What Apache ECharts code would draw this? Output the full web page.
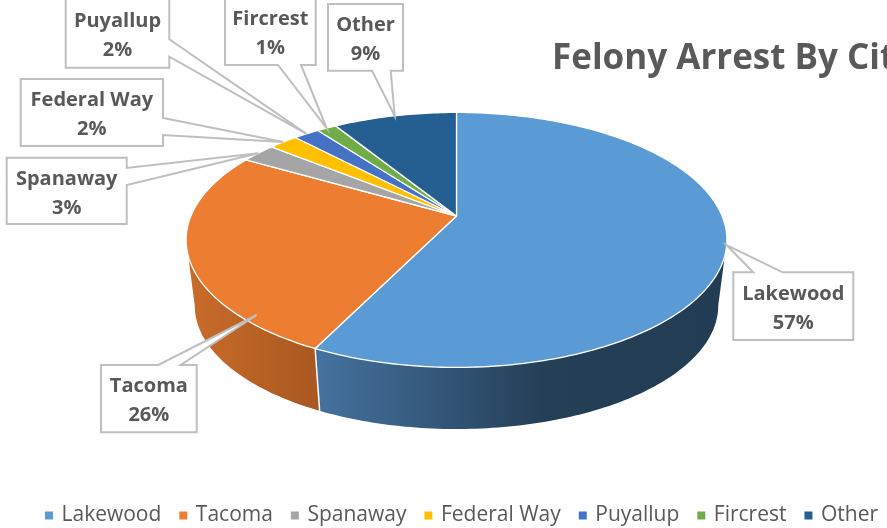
<!DOCTYPE html>
<html><head><meta charset="utf-8">
<style>html,body{margin:0;padding:0;background:#fff;overflow:hidden}#c{width:887px;height:528px}</style>
<script src="https://cdn.jsdelivr.net/npm/echarts@6/dist/echarts.min.js"></script>
</head><body><div id="c"></div>
<script>
const categories = ['Lakewood','Tacoma','Spanaway','Federal Way','Puyallup','Fircrest','Other'];
const shares = [57.3,26.0,2.5,2.1,1.85,1.4,8.85];
const percentLabels = ['57%','26%','3%','2%','2%','1%','9%'];
const colors = ['#5b9bd5','#ed7d31','#a5a5a5','#ffc000','#4472c4','#70ad47','#255e91'];

// view geometry of the perspective disc
const VIEW = {x0:456.5,y0:216,ax:265.6,ay:123,k:0.1875,bottomScale:0.968,bottomDy:66.5};
const VIS = [100.8,259.2];
const WALL = {
  0:{x1:316,x2:727,stops:[[0,'#45729f'],[0.55,'#253f57'],[1,'#223c53']]},
  1:{x1:187,x2:318,stops:[[0,'#c96c2b'],[1,'#a95820']]}
};
// callouts: box [x0,y0,x1,y1], root side and two root offsets along it, optional fixed tip
const CALLOUT = [
 {box:[733.3,272.3,853.3,340],side:'top',roots:[753.3,782.7]},
 {box:[101,365,196.7,432.3],side:'top',roots:[158.3,180.7],tip:[256.7,315]},
 {box:[6.7,157.7,126.7,224],side:'right',roots:[168,185]},
 {box:[20.7,79,163,146],side:'right',roots:[118,135]},
 {box:[65.7,-1,169.3,67.7],side:'right',roots:[39.3,56.7]},
 {box:[225,-3,315.7,65],side:'bottom',roots:[278,301]},
 {box:[328,4,403,70.7],side:'bottom',roots:[372,390.7]}
];
const TEXT = '#595959', FONT = '"Open Sans", sans-serif';

const total = shares.reduce((a,b)=>a+b,0);
const edges = [0];
shares.forEach(v=>edges.push(edges[edges.length-1]+v/total*360));

function proj(deg,r,bottom){
  const t=deg*Math.PI/180, x=r*Math.sin(t), y=-r*Math.cos(t), w=1-VIEW.k*y;
  const s=bottom?VIEW.bottomScale:1, dy=bottom?VIEW.bottomDy:0;
  return [VIEW.x0+s*VIEW.ax*x/w, VIEW.y0+dy+s*VIEW.ay*y/w];
}
function arc(a,b,bottom){
  const p=[],n=Math.max(2,Math.ceil(Math.abs(b-a)));
  for(let i=0;i<=n;i++)p.push(proj(a+(b-a)*i/n,1,bottom));
  return p;
}
function render(i){
  const a=edges[i],b=edges[i+1],mid=(a+b)/2,kids=[];
  const va=Math.max(a,VIS[0]),vb=Math.min(b,VIS[1]);
  if(vb>va){
    const w=WALL[i];
    kids.push({type:'polygon',z2:1,shape:{points:arc(va,vb,false).concat(arc(vb,va,true))},
      style:{fill:new echarts.graphic.LinearGradient(w.x1,0,w.x2,0,w.stops.map(s=>({offset:s[0],color:s[1]})),true),stroke:null}});
    if(b<VIS[1]) kids.push({type:'line',z2:2,shape:{x1:proj(b,1)[0],y1:proj(b,1)[1],x2:proj(b,1,true)[0],y2:proj(b,1,true)[1]},style:{stroke:'#fff',lineWidth:1.5}});
  }
  kids.push({type:'polygon',z2:3,shape:{points:[proj(0,0)].concat(arc(a,b,false))},
    style:{fill:colors[i],stroke:'#fff',lineWidth:1.3,lineJoin:'round'}});
  const c=CALLOUT[i],[x0,y0,x1,y1]=c.box,tip=c.tip||proj(mid,1);
  let pts;
  if(c.side==='top')pts=[[x0,y0],[c.roots[0],y0],tip,[c.roots[1],y0],[x1,y0],[x1,y1],[x0,y1]];
  if(c.side==='right')pts=[[x0,y0],[x1,y0],[x1,c.roots[0]],tip,[x1,c.roots[1]],[x1,y1],[x0,y1]];
  if(c.side==='bottom')pts=[[x0,y0],[x1,y0],[x1,y1],[c.roots[1],y1],tip,[c.roots[0],y1],[x0,y1]];
  kids.push({type:'polygon',z2:5,shape:{points:pts},style:{fill:'#fff',stroke:'#bfbfbf',lineWidth:2,lineJoin:'miter'}});
  const cx=(x0+x1)/2,cy=(y0+y1)/2;
  kids.push({type:'text',z2:6,style:{text:categories[i],x:cx,y:cy-12,align:'center',verticalAlign:'middle',font:'bold 20px '+FONT,fill:TEXT}});
  kids.push({type:'text',z2:6,style:{text:percentLabels[i],x:cx,y:cy+17,align:'center',verticalAlign:'middle',font:'bold 20px '+FONT,fill:TEXT}});
  return {type:'group',children:kids};
}
const chart=echarts.init(document.getElementById('c'),null,{renderer:'canvas'});
chart.setOption({
  animation:false,
  backgroundColor:'#fff',
  title:{text:'Felony Arrest By City',left:547,top:37,textStyle:{fontFamily:FONT,fontWeight:'bold',fontSize:35,color:TEXT}},
  legend:{data:categories,left:40,top:500,width:1000,icon:'rect',itemWidth:8,itemHeight:8,itemGap:18,
    textStyle:{fontFamily:FONT,fontSize:21,color:TEXT,padding:[0,0,0,3.5]}},
  series:categories.map((name,i)=>({
    type:'custom',name,coordinateSystem:'none',silent:true,
    itemStyle:{color:colors[i]},
    data:[[shares[i]]],
    renderItem:()=>render(i)
  }))
});
</script></body></html>
